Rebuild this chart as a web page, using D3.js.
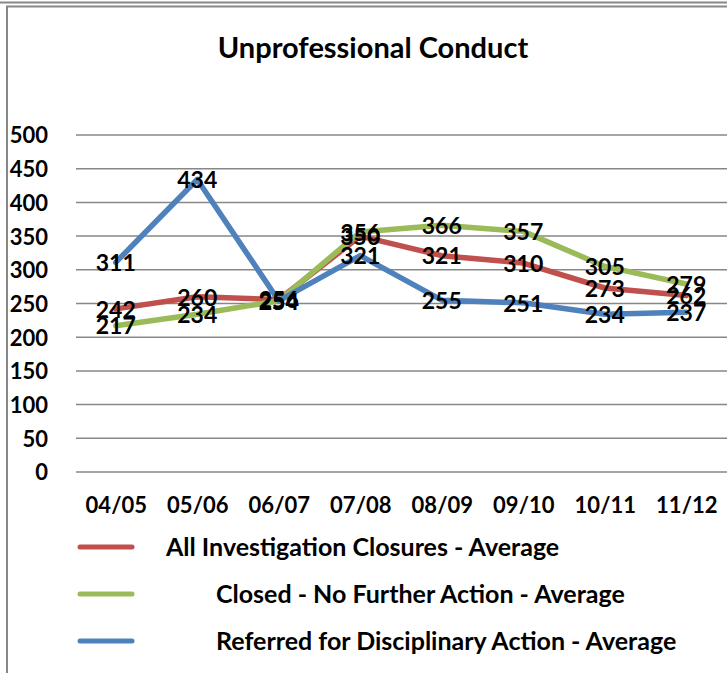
<!DOCTYPE html>
<html>
<head>
<meta charset="utf-8">
<script src="https://cdn.jsdelivr.net/npm/d3@7/dist/d3.min.js"></script>
<style>
  html, body { margin: 0; padding: 0; background: #fff; }
  svg text { font-family: Lato, "Open Sans", sans-serif; font-weight: bold; fill: #000; }
</style>
</head>
<body>
<svg id="chart" width="727" height="673"></svg>
<script>
const title = "Unprofessional Conduct";
const categories = ["04/05", "05/06", "06/07", "07/08", "08/09", "09/10", "10/11", "11/12"];
const seriesNames = [
  "All Investigation Closures - Average",
  "Closed - No Further Action - Average",
  "Referred for Disciplinary Action - Average"
];
const allClosures = [242, 260, 256, 350, 321, 310, 273, 262];
const closedNFA = [217, 234, 254, 356, 366, 357, 305, 279];
const referred = [311, 434, 254, 321, 255, 251, 234, 237];
const seriesColors = ["#C0504D", "#9BBB59", "#4F81BD"];
const yTicks = [0, 50, 100, 150, 200, 250, 300, 350, 400, 450, 500];

const series = [allClosures, closedNFA, referred].map((v, i) => ({
  name: seriesNames[i], values: v, color: seriesColors[i]
}));

const svg = d3.select("#chart");

// frames
svg.append("line").attr("x1", 0).attr("x2", 727).attr("y1", 2.5).attr("y2", 2.5)
  .attr("stroke", "#878787").attr("stroke-width", 2);
svg.append("path").attr("d", "M7,673 V6.5 H727")
  .attr("fill", "none").attr("stroke", "#878787").attr("stroke-width", 2);

const x = d3.scalePoint().domain(categories).range([75, 727]).padding(0.5);
const y = d3.scaleLinear().domain([0, 500]).range([472, 135]);

// title
svg.append("text").attr("x", 373).attr("y", 58).attr("text-anchor", "middle")
  .style("font-size", "29px").text(title);

// gridlines
svg.append("g").selectAll("line").data(yTicks).join("line")
  .attr("x1", 76).attr("x2", 727)
  .attr("y1", d => y(d)).attr("y2", d => y(d))
  .attr("stroke", "#878787").attr("stroke-width", 1.5);

// y axis labels
const yAxis = d3.axisLeft(y).tickValues(yTicks).tickSize(0).tickPadding(0);
const yg = svg.append("g").attr("transform", "translate(48,0)").call(yAxis);
yg.select(".domain").remove();
yg.selectAll("text").style("font-size", "22px").attr("dy", "0.36em")
  .style("font-family", "Lato, sans-serif").style("font-weight", "bold").attr("fill", "#000");

// x axis labels
const xAxis = d3.axisBottom(x).tickSize(0).tickPadding(0);
const xg = svg.append("g").attr("transform", "translate(0,497)").call(xAxis);
xg.select(".domain").remove();
xg.selectAll("text").style("font-size", "22px").attr("dy", "0.71em")
  .style("font-family", "Lato, sans-serif").style("font-weight", "bold").attr("fill", "#000");

// lines
const line = d3.line().x((d, i) => x(categories[i])).y(d => y(d));
svg.append("g").selectAll("path").data(series).join("path")
  .attr("d", d => line(d.values))
  .attr("fill", "none").attr("stroke", d => d.color)
  .attr("stroke-width", 5.5).attr("stroke-linejoin", "round").attr("stroke-linecap", "round");

// data labels
const lg = svg.append("g");
series.forEach(s => {
  lg.selectAll(null).data(s.values).join("text")
    .attr("x", (d, i) => x(categories[i]))
    .attr("y", d => y(d))
    .attr("dy", "0.38em")
    .attr("text-anchor", "middle")
    .style("font-size", "23px")
    .text(d => d);
});

// legend
const legendY = [547, 594, 641];
const legendTextX = [166, 216, 216];
const leg = svg.append("g").selectAll("g").data(series).join("g");
leg.append("line")
  .attr("x1", 80).attr("x2", 132)
  .attr("y1", (d, i) => legendY[i]).attr("y2", (d, i) => legendY[i])
  .attr("stroke", d => d.color).attr("stroke-width", 5).attr("stroke-linecap", "round");
leg.append("text")
  .attr("x", (d, i) => legendTextX[i]).attr("y", (d, i) => legendY[i])
  .attr("dy", "0.36em")
  .style("font-size", "25px")
  .text(d => d.name);
</script>
</body>
</html>
